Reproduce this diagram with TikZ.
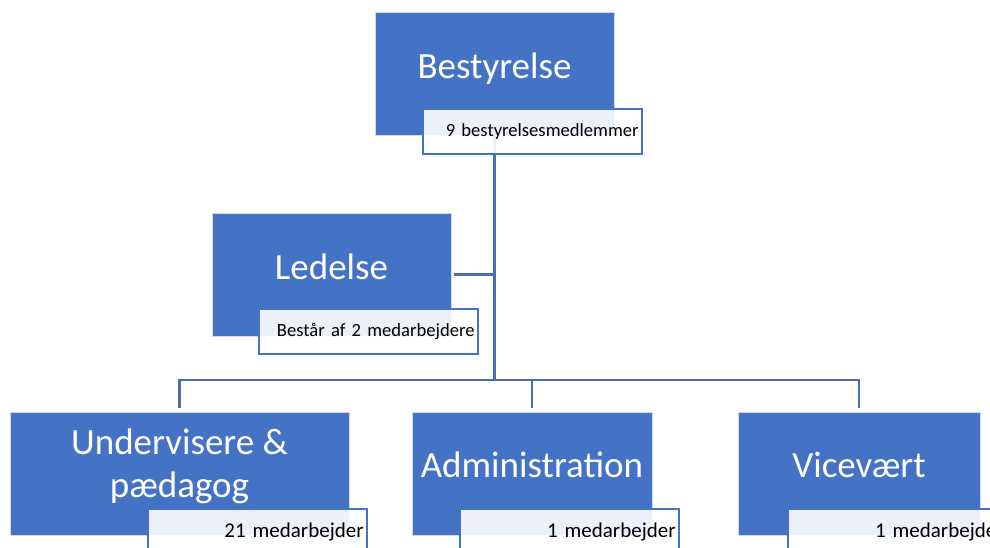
\documentclass[tikz,border=0pt]{standalone}
\usepackage{fontspec}
\setmainfont{Carlito}
\usetikzlibrary{calc}

\definecolor{orgblue}{HTML}{4472C4}
\definecolor{linkblue}{HTML}{4A6DB2}

\begin{document}
\begin{tikzpicture}[
    x=1pt, y=-1pt,
    mainbox/.style={rectangle, fill=orgblue, draw=white!75!orgblue, line width=0.8pt, minimum width=239pt, minimum height=123pt, inner sep=0pt},
    maintext/.style={text=white, align=center, font=\fontsize{37}{43}\selectfont},
    subbox/.style={rectangle, anchor=north west, fill=white, fill opacity=0.9, text opacity=1, draw=orgblue, line width=2pt, minimum width=219pt, minimum height=45pt, text width=213pt, inner xsep=3pt, align=right, font=\fontsize{21}{25}\selectfont},
    smalltext/.style={font=\fontsize{18.6}{22}\selectfont},
    link/.style={draw=linkblue, line width=2.5pt}
]

% page size of the reference
\clip (0,0) rectangle (990,547);

% ==================== BOXES ====================
\node[mainbox] (best) at (494.5, 73.5) {};
\node[mainbox] (led) at (331.5, 274.5) {};
\node[mainbox, minimum width=339pt] (under) at (179.5, 473.5) {};
\node[mainbox, minimum width=240pt] (admin) at (532, 473.5) {};
\node[mainbox, minimum width=242pt] (vice) at (859, 473.5) {};

% ==================== LINES ====================
\coordinate (split) at (494.5, 380);
\draw[link] (best.south) -- (split);
\draw[link] ([xshift=3pt]led.east) -- (led.east -| split);
\draw[link, line join=miter, shorten <=4pt, shorten >=4pt] (under.north) -- (under.north |- split) -- (vice.north |- split) -- (vice.north);
\draw[link, shorten >=4pt] (admin.north |- split) -- (admin.north);

% ==================== SUB BOXES ====================
\node[subbox, smalltext] (bestsub) at ($(best.south west)+(47,-27)$) {9 bestyrelsesmedlemmer};
\node[subbox, smalltext] (ledsub) at ($(led.south west)+(46,-28)$) {Består af 2 medarbejdere};
\node[subbox] (undersub) at ($(under.south west)+(137,-27)$) {21 medarbejder};
\node[subbox] (adminsub) at ($(admin.south west)+(47,-27)$) {1 medarbejder};
\node[subbox] (vicesub) at ($(vice.south west)+(49,-27)$) {1 medarbejder};

% ==================== LABELS ====================
\node[maintext] (bestlabel) at ($(best.north)+(0,57)$) {Bestyrelse};
\node[maintext] (ledlabel) at ($(led.north)+(0,54)$) {Ledelse};
\node[maintext] (underlabel) at ($(under.north)+(0,55)$) {Undervisere \&\\pædagog};
\node[maintext] (adminlabel) at ($(admin.north)+(0,53)$) {Administration};
\node[maintext] (vicelabel) at ($(vice.north)+(0,53)$) {Vicevært};

\end{tikzpicture}
\end{document}
